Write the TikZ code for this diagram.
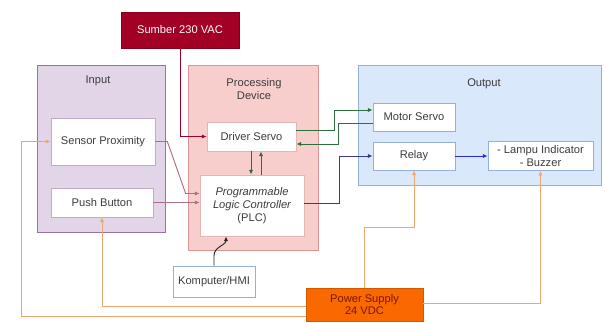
\documentclass[tikz,border=0pt]{standalone}
\usepackage{fontspec}
\setmainfont{Liberation Sans}
\usepackage{xcolor}
\usepackage{tikz}
\usetikzlibrary{arrows.meta,positioning,calc}
\definecolor{sumberred}{RGB}{162, 0, 37}
\definecolor{inputfill}{RGB}{225, 213, 231}
\definecolor{inputline}{RGB}{150, 115, 166}
\definecolor{procfill}{RGB}{248, 206, 204}
\definecolor{procline}{RGB}{218, 150, 148}
\definecolor{outputfill}{RGB}{218, 232, 252}
\definecolor{outputline}{RGB}{150, 175, 215}
\definecolor{psorange}{RGB}{250, 104, 0}
\definecolor{pstext}{RGB}{120, 25, 0}
\definecolor{powerline}{RGB}{236, 168, 108}
\definecolor{servogreen}{RGB}{46, 110, 60}
\definecolor{plcblue}{RGB}{60, 55, 150}
\definecolor{relayblue}{RGB}{40, 40, 230}
\definecolor{signalmauve}{RGB}{175, 110, 125}
\definecolor{textgray}{RGB}{60, 60, 60}

\begin{document}
\begin{tikzpicture}[x=0.03cm,y=-0.03cm,
    font=\fontsize{9.5}{11}\selectfont,
    group/.style={draw,line width=0.6pt,text=textgray},
    unit/.style={draw,line width=0.6pt,fill=white,text=textgray,align=center},
    wire/.style={line width=0.8pt,-{Latex[length=4pt,width=3.5pt]}}]
    \useasboundingbox (0,0) rectangle (605,322);

    % Groups
    \node[group,fill=inputfill,draw=inputline,minimum width=3.84cm,minimum height=5.01cm] (input) at (101,148.5) {};
    \node[textgray] (inputlabel) at (98,81) {Input};
    \node[group,fill=procfill,draw=procline,minimum width=3.9cm,minimum height=5.55cm] (proc) at (253,157.5) {};
    \node[textgray,align=center] (proclabel) at (254,89) {Processing\\Device};
    \node[group,fill=outputfill,draw=outputline,minimum width=7.29cm,minimum height=3.6cm] (output) at (479.5,125) {};
    \node[textgray] (outputlabel) at (484,84) {Output};

    % Sources
    \node[draw=sumberred!80!black,fill=sumberred,text=white,minimum width=3.54cm,minimum height=1.08cm] (sumber) at (180,30) {Sumber 230 VAC};
    \node[draw=psorange!85!black,fill=psorange,text=pstext,align=center,minimum width=3.51cm,minimum height=0.99cm] (ps) at (364.5,304.5) {Power Supply\\24 VDC};

    % Input devices
    \node[unit,draw=inputline!60,minimum width=3.12cm,minimum height=1.41cm] (sensor) at (103,141.5) {Sensor Proximity};
    \node[unit,draw=inputline!60,minimum width=3.06cm,minimum height=0.87cm] (push) at (102,202.5) {Push Button};

    % Processing
    \node[unit,draw=procline!70,minimum width=2.67cm,minimum height=0.87cm] (driver) at (251.5,136.5) {Driver Servo};
    \node[unit,draw=procline!70,minimum width=3.12cm,minimum height=1.83cm] (plc) at (252,205.5) {\itshape Programmable\\\itshape Logic Controller\\(PLC)};
    \node[unit,draw=outputline,minimum width=2.46cm,minimum height=0.93cm] (hmi) at (214,281.5) {Komputer/HMI};

    % Output devices
    \node[unit,draw=outputline,minimum width=2.46cm,minimum height=0.84cm] (motor) at (414,117) {Motor Servo};
    \node[unit,draw=outputline,minimum width=2.46cm,minimum height=0.84cm] (relay) at (414,156) {Relay};
    \node[unit,draw=outputline,minimum width=3.15cm,minimum height=0.84cm] (lampu) at (540.5,156) {- Lampu Indicator\\- Buzzer};

    % AC supply
    \draw[wire,sumberred] (sumber.south) |- (driver.west);

    % Signals into the PLC
    \draw[wire,signalmauve] (sensor.east) -- ++(12,0) -- ($(plc.west)+(-14,-12)$) -- ($(plc.west)+(0,-12)$);
    \draw[wire,signalmauve] (push.east) -- (push.east -| plc.west);
    \draw[wire,black!85] (hmi.north) -- ++(0,-10) to[out=90,in=-90] ($(plc.south)+(-26,0)$);

    % Driver servo links
    \draw[wire,servogreen] ($(driver.south)+(-0.5,0)$) -- ($(plc.north)+(-1,0)$);
    \draw[wire,servogreen] ($(plc.north)+(9,0)$) -- ($(driver.south)+(9.5,0)$);
    \draw[wire,servogreen] ($(driver.east)+(0,-6.5)$) -- ++(38,0) |- ($(motor.west)+(0,-7)$);
    \draw[wire,servogreen] ($(motor.west)+(0,6)$) -- ++(-34,0) |- ($(driver.east)+(0,7.5)$);

    % PLC outputs
    \draw[wire,plcblue] ($(plc.east)+(0,-2)$) -- ++(35,0) |- (relay.west);
    \draw[wire,relayblue] (relay.east) -- (lampu.west);

    % 24 VDC supply lines
    \draw[wire,powerline] ($(ps.west)+(0,12)$) -| ($(sensor.west)+(-29,0)$) -- (sensor.west);
    \draw[wire,powerline] ($(ps.west)+(0,2)$) -| (push.south);
    \draw[wire,powerline] (ps.north) -- ++(0,-60) -| (relay.south);
    \draw[wire,powerline] ($(ps.east)+(0,-1)$) -| (lampu.south);
\end{tikzpicture}
\end{document}
